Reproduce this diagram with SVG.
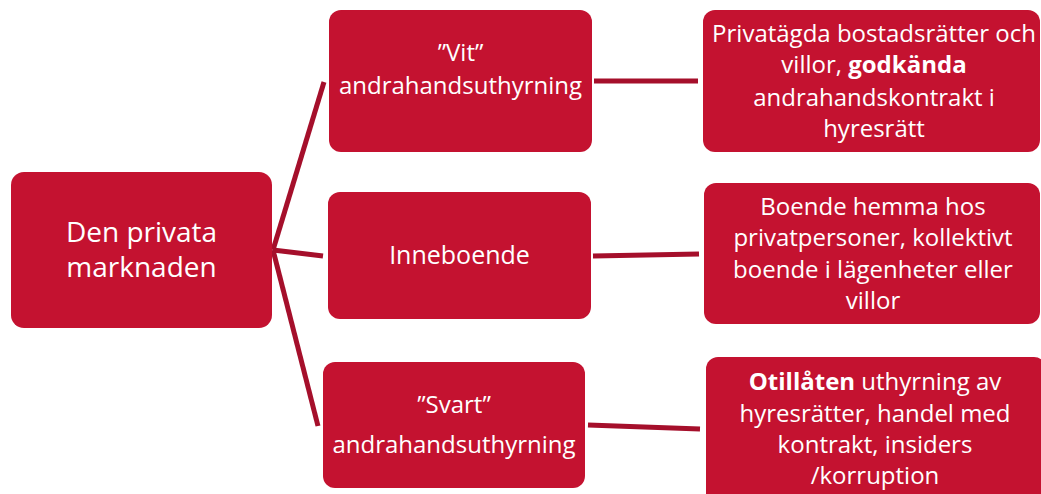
<svg xmlns="http://www.w3.org/2000/svg" width="1041" height="494" viewBox="0 0 1041 494">
<style>
.box{fill:#C41230;}
.t{fill:#FFFFFF;font-family:"Open Sans","Noto Sans",sans-serif;text-anchor:middle;}
.m{font-size:24px;}
.l{font-size:28px;}
.b{font-weight:bold;}
.c{stroke:#A50F2B;stroke-width:5;fill:none;stroke-linecap:butt;}
</style>
<rect width="1041" height="494" fill="#FFFFFF"/>
<g id="connectors">
<line class="c" x1="273" y1="250" x2="324" y2="82"/>
<line class="c" x1="273" y1="250" x2="323" y2="256"/>
<line class="c" x1="273" y1="250" x2="318" y2="426"/>
<line class="c" x1="594" y1="81" x2="698" y2="81"/>
<line class="c" x1="593" y1="256" x2="699" y2="254"/>
<line class="c" x1="588" y1="425" x2="700" y2="429"/>
</g>
<g id="n-root">
<rect class="box" x="11" y="172" width="261" height="156" rx="13"/>
<text class="t l" x="141.5" y="242">Den privata</text>
<text class="t l" x="141.5" y="277">marknaden</text>
</g>
<g id="n-vit">
<rect class="box" x="329" y="10" width="263" height="142" rx="12"/>
<text class="t m" x="460.5" y="61">”Vit”</text>
<text class="t m" x="460.5" y="94">andrahandsuthyrning</text>
</g>
<g id="n-inne">
<rect class="box" x="328" y="192" width="263" height="127" rx="12"/>
<text class="t" x="459.5" y="264" font-size="25">Inneboende</text>
</g>
<g id="n-svart">
<rect class="box" x="323" y="362" width="262" height="126" rx="12"/>
<text class="t m" x="454" y="413">”Svart”</text>
<text class="t m" x="454" y="453">andrahandsuthyrning</text>
</g>
<g id="n-vit-desc">
<rect class="box" x="703" y="10" width="337" height="142" rx="12"/>
<text class="t m" x="874" y="42">Privatägda bostadsrätter och</text>
<text class="t m" x="874" y="73">villor, <tspan class="b">godkända</tspan></text>
<text class="t m" x="874" y="106">andrahandskontrakt i</text>
<text class="t m" x="874" y="137">hyresrätt</text>
</g>
<g id="n-inne-desc">
<rect class="box" x="704" y="183" width="336" height="141" rx="12"/>
<text class="t m" x="873" y="215">Boende hemma hos</text>
<text class="t m" x="873" y="246">privatpersoner, kollektivt</text>
<text class="t m" x="873" y="278">boende i lägenheter eller</text>
<text class="t m" x="873" y="309">villor</text>
</g>
<g id="n-svart-desc">
<rect class="box" x="706" y="357" width="340" height="150" rx="12"/>
<text class="t m" x="875" y="390"><tspan class="b">Otillåten</tspan> uthyrning av</text>
<text class="t m" x="875" y="422">hyresrätter, handel med</text>
<text class="t m" x="875" y="453">kontrakt, insiders</text>
<text class="t m" x="875" y="484">/korruption</text>
</g>
</svg>
